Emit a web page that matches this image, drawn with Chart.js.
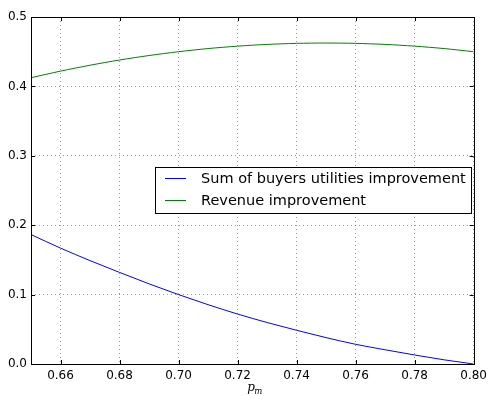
<!DOCTYPE html>
<html>
<head>
<meta charset="utf-8">
<script src="https://cdn.jsdelivr.net/npm/chart.js@4/dist/chart.umd.min.js"></script>
<style>
  html, body { margin: 0; padding: 0; background: #fff; }
  #wrap { width: 492px; height: 396px; }
</style>
</head>
<body>
<div id="wrap"><canvas id="c" width="492" height="396"></canvas></div>
<script>
// Price p_m and the two improvement curves
const pm = [0.65, 0.66, 0.67, 0.68, 0.69, 0.70, 0.71, 0.72, 0.73, 0.74, 0.75, 0.76, 0.77, 0.78, 0.79, 0.80];
const buyersUtilities = [0.1865, 0.1670, 0.1490, 0.1320, 0.1155, 0.1000, 0.0855, 0.0720, 0.0598, 0.0486, 0.0380, 0.0284, 0.0205, 0.0130, 0.0060, 0.0000];
const revenue = [0.4125, 0.4220, 0.4305, 0.4380, 0.4445, 0.4500, 0.4545, 0.4580, 0.4605, 0.4620, 0.4625, 0.4620, 0.4605, 0.4580, 0.4545, 0.4500];

const seriesLabels = ['Sum of buyers utilities improvement', 'Revenue improvement'];
const xTicks = [0.66, 0.68, 0.70, 0.72, 0.74, 0.76, 0.78, 0.80];
const yTicks = [0.0, 0.1, 0.2, 0.3, 0.4, 0.5];

const FONT = 'DejaVu Sans';

function points(ys) { return pm.map((x, i) => ({ x: x, y: ys[i] })); }

// Frame, inward tick marks, legend box and the x-axis label
const decor = {
  id: 'decor',
  afterDatasetsDraw(chart) {
    const ctx = chart.ctx;
    const a = chart.chartArea;
    const xs = chart.scales.x, ys = chart.scales.y;
    ctx.save();
    ctx.strokeStyle = '#000';
    ctx.lineWidth = 1;
    ctx.strokeRect(Math.round(a.left) + 0.5, Math.round(a.top) + 0.5,
                   Math.round(a.right - a.left), Math.round(a.bottom - a.top));
    ctx.beginPath();
    xTicks.concat([0.65]).forEach(v => {
      const px = Math.round(xs.getPixelForValue(v)) + 0.5;
      ctx.moveTo(px, a.bottom); ctx.lineTo(px, a.bottom - 4);
      ctx.moveTo(px, a.top); ctx.lineTo(px, a.top + 4);
    });
    yTicks.forEach(v => {
      const py = Math.round(ys.getPixelForValue(v)) + 0.5;
      ctx.moveTo(a.left, py); ctx.lineTo(a.left + 4, py);
      ctx.moveTo(a.right, py); ctx.lineTo(a.right - 4, py);
    });
    ctx.stroke();

    // legend
    const lx = 155.5, ly = 167.5, lw = 316, lh = 46;
    ctx.fillStyle = '#fff';
    ctx.fillRect(lx, ly, lw, lh);
    ctx.strokeStyle = '#000';
    ctx.strokeRect(lx, ly, lw, lh);
    ctx.font = '14.5px "' + FONT + '"';
    ctx.textBaseline = 'middle';
    ctx.textAlign = 'left';
    chart.data.datasets.forEach((ds, i) => {
      const ry = 178.5 + i * 22;
      ctx.strokeStyle = ds.borderColor;
      ctx.beginPath();
      ctx.moveTo(165, ry); ctx.lineTo(186, ry);
      ctx.stroke();
      ctx.fillStyle = '#000';
      ctx.fillText(ds.label, 201, ry + 0.5);
    });

    // x label: p with subscript m
    ctx.fillStyle = '#000';
    ctx.textBaseline = 'alphabetic';
    ctx.font = 'italic 12px "DejaVu Serif"';
    const cx = (a.left + a.right) / 2 - 4;
    ctx.fillText('p', cx - 1, 391);
    ctx.font = 'italic 8.5px "DejaVu Serif"';
    ctx.fillText('m', cx + 6, 394);
    ctx.restore();
  }
};

new Chart(document.getElementById('c'), {
  type: 'line',
  data: {
    datasets: [
      { label: seriesLabels[0], data: points(buyersUtilities), borderColor: '#0000ff', borderWidth: 1, pointRadius: 0, cubicInterpolationMode: 'monotone', fill: false },
      { label: seriesLabels[1], data: points(revenue), borderColor: '#008000', borderWidth: 1, pointRadius: 0, tension: 0.3, fill: false }
    ]
  },
  options: {
    responsive: false,
    animation: false,
    devicePixelRatio: 1,
    layout: { padding: { top: 17, right: 13, left: 0, bottom: 0 } },
    plugins: { legend: { display: false }, tooltip: { enabled: false } },
    scales: {
      x: {
        type: 'linear',
        min: 0.65, max: 0.80,
        afterBuildTicks: s => { s.ticks = xTicks.map(v => ({ value: v })); },
        afterFit: s => { s.height = 32; },
        grid: { color: 'rgba(0,0,0,0.4)', lineWidth: 1, tickLength: 0, drawTicks: false },
        border: { display: false, dash: [1, 3] },
        ticks: {
          color: '#000', padding: 5,
          font: { family: FONT, size: 12 },
          callback: v => v.toFixed(2)
        }
      },
      y: {
        min: 0, max: 0.5,
        afterBuildTicks: s => { s.ticks = yTicks.map(v => ({ value: v })); },
        afterFit: s => { s.width = 31; },
        grid: { color: 'rgba(0,0,0,0.4)', lineWidth: 1, drawTicks: false },
        border: { display: false, dash: [1, 3] },
        ticks: {
          color: '#000', padding: 4,
          font: { family: FONT, size: 12 },
          callback: v => v.toFixed(1)
        }
      }
    }
  },
  plugins: [decor]
});
</script>
</body>
</html>
